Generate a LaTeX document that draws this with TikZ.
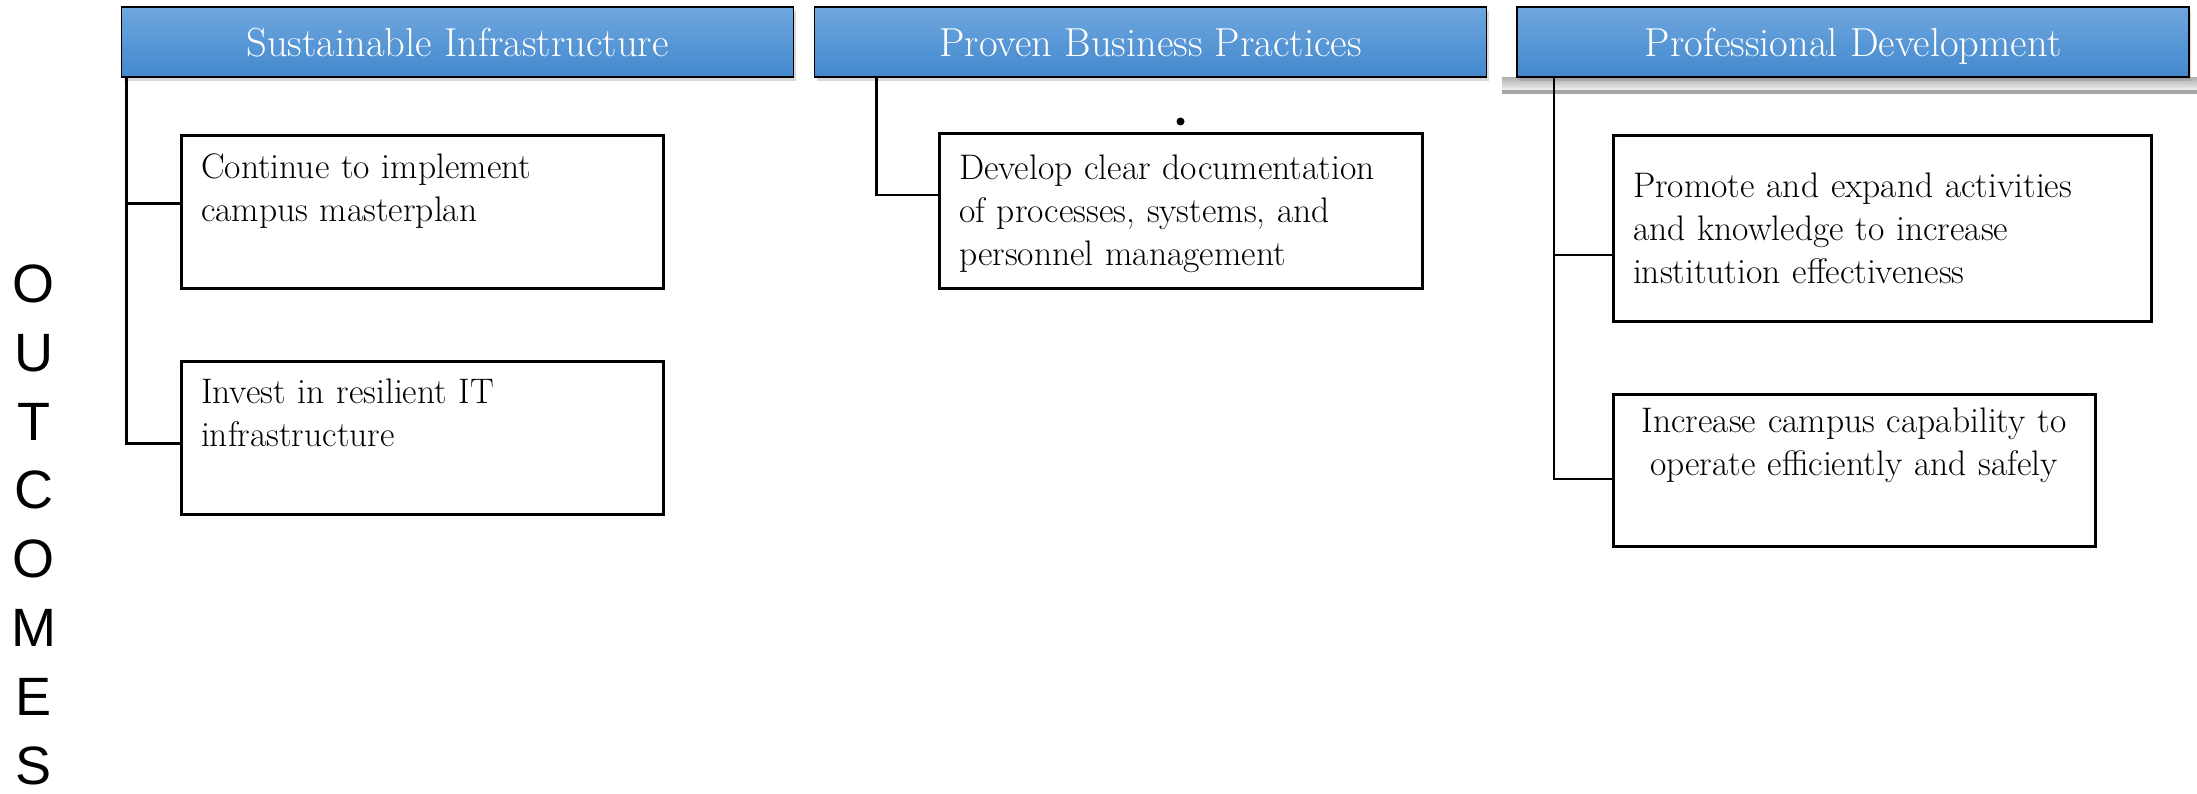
\documentclass[tikz,border=0pt]{standalone}
\usepackage{fontspec}
\newfontfamily\outfont{Liberation Sans}
\usetikzlibrary{positioning, calc, shadows}
\definecolor{headtop}{RGB}{111,167,223}
\definecolor{headbot}{RGB}{66,136,205}

\begin{document}
\begin{tikzpicture}[x=1pt, y=-1pt,
    head/.style={draw=black, line width=1.8pt, top color=headtop, bottom color=headbot,
      minimum width=672pt, minimum height=70pt, text=white,
      text height=30pt, text depth=0pt,
      font=\fontsize{40.5}{48}\selectfont,
      drop shadow={shadow xshift=2pt, shadow yshift=-4pt, opacity=0.3}},
    goalbox/.style={draw=black, line width=3pt, inner xsep=20pt, inner ysep=0pt,
      align=left, font=\fontsize{35.5}{43}\selectfont},
    link/.style={line width=2.5pt},
]
\useasboundingbox (0,0) rectangle (2197,794);

% grey strip under the third header
\shade[top color=gray!60, bottom color=gray!12] (1502,78) rectangle (2197,90);
\fill[gray!70] (1502,90) rectangle (2197,94);

% headers
\node[head] (h1) at (457.5,42) {Sustainable Infrastructure};
\node[head] (h2) at (1150.5,42) {Proven Business Practices};
\node[head] (h3) at (1853,42) {Professional Development};

% outcome boxes
\node[goalbox, text width=442pt, minimum height=153pt] (b1a) at (422,212.5)
   {Continue to implement\\campus masterplan\\[-6pt] \strut};
\node[goalbox, text width=442pt, minimum height=153pt] (b1b) at (422,437.5)
   {Invest in resilient IT\\infrastructure\\[-6pt] \strut};
\node[goalbox, text width=443pt, minimum height=155pt] (b2) at (1180.5,211.5)
   {\strut Develop clear documentation\\of processes, systems, and\\personnel management};
\node[goalbox, text width=498pt, minimum height=185pt] (b3a) at (1882,228.5)
   {Promote and expand activities\\and knowledge to increase\\institution effectiveness};
\node[goalbox, align=center, text width=442pt, minimum height=152pt] (b3b) at (1854,470)
   {Increase campus capability to\\operate efficiently and safely\\ \strut};

\node[circle, fill=black, inner sep=0pt, minimum size=8pt] (dot) at ($(b2.north)+(0,-11)$) {};

% connectors
\coordinate (s1) at ($(h1.south west)+(6,0)$);
\coordinate (s2) at ($(h2.south west)+(63,0)$);
\coordinate (s3) at ($(h3.south west)+(38,0)$);
\draw[link] (s1) |- ($(b1a.west)+(0,-9)$);
\draw[link] (s1) |- ($(b1b.west)+(0,6)$);
\draw[link] (s2) |- ($(b2.west)+(0,-16.5)$);
\draw[link] (s3) |- ($(b3a.west)+(0,26.5)$);
\draw[link] (s3) |- ($(b3b.west)+(0,9)$);

% vertical label
\foreach \ltr [count=\i from 0] in {O,U,T,C,O,M,E,S}
  \node[font=\outfont\fontsize{54}{60}\selectfont, inner sep=0pt] (out\i) at (34,284+68.8*\i) {\ltr};
\end{tikzpicture}
\end{document}
